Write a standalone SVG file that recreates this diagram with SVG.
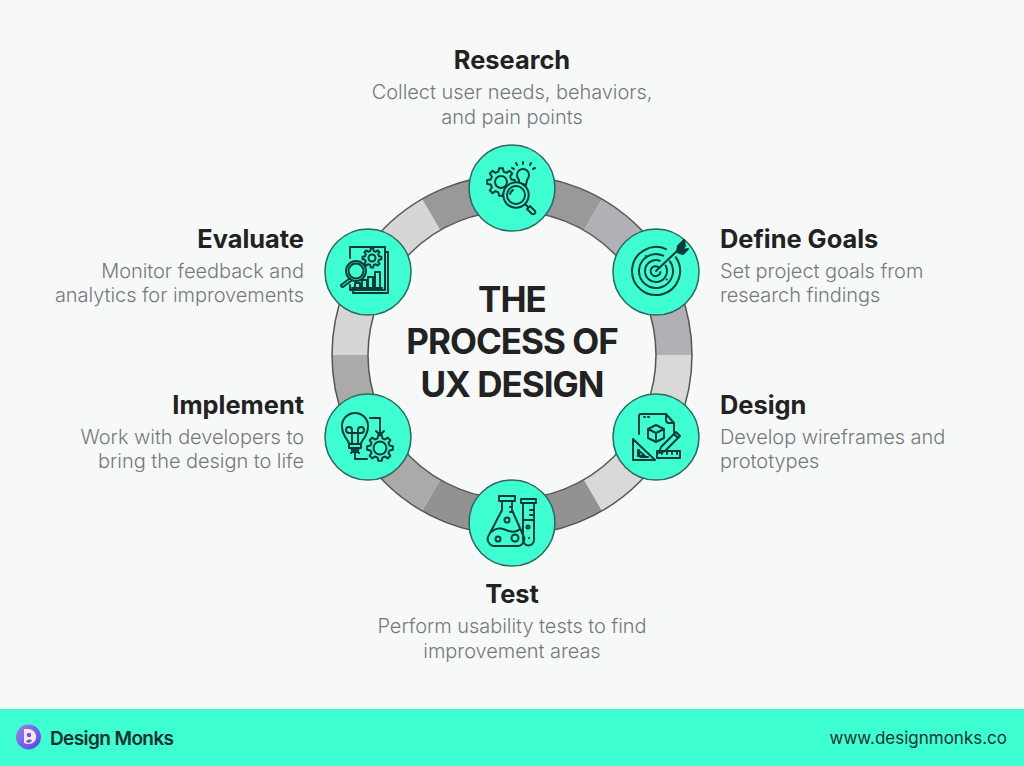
<svg xmlns="http://www.w3.org/2000/svg" width="1024" height="766" viewBox="0 0 1024 766">
<style>
.h{font-family:Inter,"Liberation Sans",sans-serif;font-weight:700;font-size:25.4px;fill:#222}
.d{font-family:Inter,"Liberation Sans",sans-serif;font-weight:300;font-size:20px;letter-spacing:-.05px;fill:#75797c}
.t{font-family:Inter,"Liberation Sans",sans-serif;font-weight:700;font-size:35px;fill:#222;text-anchor:middle;letter-spacing:-1px}
.m{text-anchor:middle}.e{text-anchor:end}
.edge{fill:none;stroke:#555;stroke-width:1.5}
.disc{fill:#3dffd2;stroke:#33645e;stroke-width:1.5}
.i{fill:none;stroke:#0e3a37;stroke-width:2;stroke-linecap:round;stroke-linejoin:round}
</style>
<defs>
<polygon id="gear" vector-effect="non-scaling-stroke" points="7.37,-1.84 9.9,-1.39 9.9,1.39 7.37,1.84 6.51,3.91 7.98,6.02 6.02,7.98 3.91,6.51 1.84,7.37 1.39,9.9 -1.39,9.9 -1.84,7.37 -3.91,6.51 -6.02,7.98 -7.98,6.02 -6.51,3.91 -7.37,1.84 -9.9,1.39 -9.9,-1.39 -7.37,-1.84 -6.51,-3.91 -7.98,-6.02 -6.02,-7.98 -3.91,-6.51 -1.84,-7.37 -1.39,-9.9 1.39,-9.9 1.84,-7.37 3.91,-6.51 6.02,-7.98 7.98,-6.02 6.51,-3.91"/>
<linearGradient id="logo" x1="0" y1="0" x2="1" y2="1"><stop offset="0" stop-color="#a77bf0"/><stop offset="1" stop-color="#4a4de0"/></linearGradient>
</defs>
<rect width="1024" height="766" fill="#f7f9f9"/>
<rect y="709" width="1024" height="57" fill="#3dffd2"/>

<!-- ring of six shaded segments with a thin outline on both edges -->
<g id="connectors">
<path fill="#999" d="M422 199A180 180 0 0 1 602 199L584 230A144 144 0 0 0 440 230Z"/>
<path fill="#b0b0b6" d="M602 199A180 180 0 0 1 692 355H656A144 144 0 0 0 584 230Z"/>
<path fill="#d9d9d9" d="M692 355A180 180 0 0 1 602 511L584 480A144 144 0 0 0 656 355Z"/>
<path fill="#929292" d="M602 511A180 180 0 0 1 422 511L440 480A144 144 0 0 0 584 480Z"/>
<path fill="#aaa" d="M422 511A180 180 0 0 1 332 355H368A144 144 0 0 0 440 480Z"/>
<path fill="#d6d6d6" d="M332 355A180 180 0 0 1 422 199L440 230A144 144 0 0 0 368 355Z"/>
<circle class="edge" cx="512" cy="355" r="180"/>
<circle class="edge" cx="512" cy="355" r="144"/>
</g>

<g id="center-title">
<text class="t" x="512" y="312">THE</text>
<text class="t" x="512" y="354">PROCESS OF</text>
<text class="t" x="512" y="397">UX DESIGN</text>
</g>

<g id="research">
<circle class="disc" cx="512" cy="188" r="43"/>
<g class="i">
<use href="#gear" transform="translate(501 182) scale(1.4)"/>
<circle cx="501" cy="182" r="6"/>
<path d="M519 183v-3c-1-1-2-3-2-5a6 6 0 1 1 12 0c0 2-1 4-2 5l-1 5z"/>
<circle cx="516" cy="195" r="12.700" fill="#3dffd2"/>
<circle cx="516" cy="195" r="9"/>
<path d="M510 194a6 6 0 0 1 3-4"/>
<path d="M525 204l3 3M527 209l3-3 5 5a2.200 2.200 0 0 1-3 3z"/>
<path d="M516 163l1 2M523 162v2M531 163l-1 2M535 168l-2 1M512 168l2 1"/>
</g>
<text class="h m" x="512" y="69">Research</text>
<text class="d m" x="512" y="99">Collect user needs, behaviors,</text>
<text class="d m" x="512" y="124">and pain points</text>
</g>

<g id="define-goals">
<circle class="disc" cx="656" cy="272" r="43"/>
<g class="i">
<path d="M675.700 257.200A24 24 0 1 1 666.100 249.200"/>
<path d="M669.900 261.200A17 17 0 1 1 663.200 255.600"/>
<path d="M665.500 265.500A11 11 0 1 1 659.800 260.700"/>
<path d="M659 267.500A5 5 0 1 0 660.500 272"/>
<path d="M656 271l21-20"/>
<path d="M677 251l1-5 6-6 1 6-6 6zM677 251l5-1 6-1-5 5-6-2" fill="#0e3a37"/>
<path d="M645.700 256h.1M666.700 279.400h.1"/>
</g>
<text class="h" x="720" y="248">Define Goals</text>
<text class="d" x="720" y="278">Set project goals from</text>
<text class="d" x="720" y="302">research findings</text>
</g>

<g id="design">
<circle class="disc" cx="656" cy="437" r="43"/>
<g class="i">
<path d="M648 457h-6a3 3 0 0 1-3-3v-4M639 434v-18a2 2 0 0 1 2-2h25l8 9v12"/>
<path d="M666 414v6a3 3 0 0 0 3 3h5"/>
<path d="M644 417h1M648 417h1"/>
<path d="M656 425l8 4v9l-8 4-8-4v-9zM648 429l8 4 8-4M656 433v9"/>
<path d="M633 439l22 21h-22zM638 450l7 6h-7z"/>
<path d="M657 451h23v7h-23zM662 451v3M667 451v3M672 451v3M677 451v3"/>
<path d="M661 447l15-15 4 4-15 15-6 2zM674 434l4 4"/>
</g>
<text class="h" x="720" y="414">Design</text>
<text class="d" x="720" y="444">Develop wireframes and</text>
<text class="d" x="720" y="468">prototypes</text>
</g>

<g id="test">
<circle class="disc" cx="512" cy="523" r="43"/>
<g class="i">
<path d="M499 496h16v5h-16zM502 501v9l-13 25a7 7 0 0 0 6 11h22a7 7 0 0 0 6-11l-11-25v-9"/>
<path d="M512 507h-2M513 512h-3"/>
<path d="M491 532c6-5 10-4 15-2s10 3 14-1"/>
<circle cx="507" cy="520" r="2.500"/>
<circle cx="498" cy="539" r="2.500"/>
<circle cx="515" cy="538" r="3.500"/>
<path d="M521 499h15v4h-15zM523 503v37a5.500 5.500 0 0 0 11 0v-37"/>
<path d="M523 520h11M530 510h4M530 515h4"/>
<circle cx="528" cy="527" r="1.500"/>
<path d="M529 538h.1"/>
</g>
<text class="h m" x="512" y="603">Test</text>
<text class="d m" x="512" y="633">Perform usability tests to find</text>
<text class="d m" x="512" y="658">improvement areas</text>
</g>

<g id="implement">
<circle class="disc" cx="368" cy="437" r="43"/>
<g class="i">
<path d="M349 444c0-4-7-7-7-18a13 13 0 1 1 26 0c0 11-7 14-7 18z"/>
<path d="M349 444h12v4h-12zM351 448h8l-2 4h-4z"/>
<path d="M352 444v-14M358 444v-14M352 430a3 3 0 1 0-3 3h12a3 3 0 1 0-3-3"/>
<path d="M370 418h10v17M376 431l4 4 4-4"/>
<use href="#gear" transform="translate(380 448) scale(1.3)"/>
<circle cx="380" cy="448" r="6.500"/>
<path d="M367 459h-12v-9M351 453l4-4 4 4"/>
</g>
<text class="h e" x="304" y="414">Implement</text>
<text class="d e" x="304" y="444">Work with developers to</text>
<text class="d e" x="304" y="468">bring the design to life</text>
</g>

<g id="evaluate">
<circle class="disc" cx="368" cy="272" r="43"/>
<g class="i">
<path d="M350 258v-11h35v43h-35v-5"/>
<path d="M385 252h3v41h-35v-3"/>
<use href="#gear" transform="translate(372 258) scale(.95)"/>
<circle cx="372" cy="258" r="3.500"/>
<circle cx="356" cy="271" r="10" fill="#3dffd2"/>
<circle cx="356" cy="271" r="7.500"/>
<path d="M349 279l-8 6a2 2 0 0 0 2 2l8-6"/>
<path d="M355 288v-5h5v5M362 288v-8h5v8M368 288v-11h5v11M375 288v-16h5v16M352 288h30"/>
</g>
<text class="h e" x="304" y="248">Evaluate</text>
<text class="d e" x="304" y="278">Monitor feedback and</text>
<text class="d e" x="304" y="302">analytics for improvements</text>
</g>

<g id="footer">
<circle cx="28.500" cy="737" r="12.500" fill="url(#logo)"/>
<path d="M24 729h4a8 8 0 0 1 7 12c-2 3-7 4-11 2z" fill="#f3e6f5"/>
<circle cx="29" cy="735" r="2.200" fill="#6a55e0"/>
<path d="M26 742c1-3 5-3 6-1l-3 2z" fill="#6a55e0"/>
<text x="50" y="745" font-family="Inter,'Liberation Sans',sans-serif" font-weight="600" font-size="19" letter-spacing="-.6" fill="#14302e">Design Monks</text>
<text x="1007" y="744" text-anchor="end" font-family="Inter,'Liberation Sans',sans-serif" font-weight="400" font-size="17" fill="#14302e">www.designmonks.co</text>
</g>
</svg>
